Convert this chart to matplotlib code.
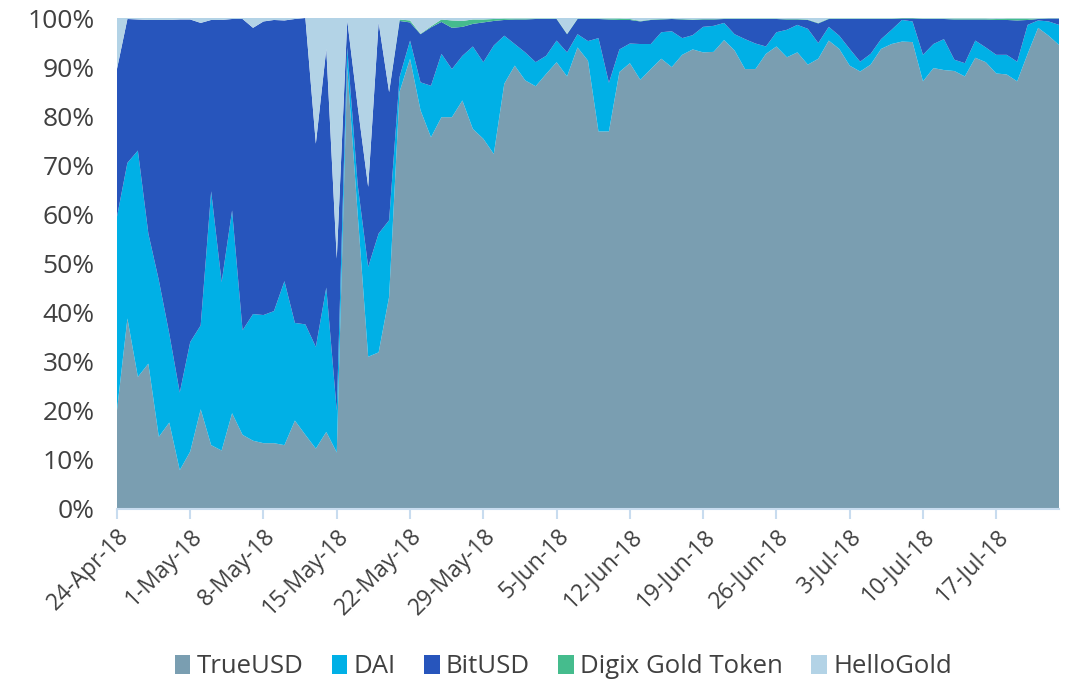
import numpy as np
import pandas as pd
import matplotlib
matplotlib.use("Agg")
import matplotlib.pyplot as plt
import matplotlib.dates as mdates
from matplotlib.patches import Patch
from matplotlib.ticker import FuncFormatter

# daily share of volume, 24-Apr-18 .. 23-Jul-18 (91 days)
dates = pd.date_range("2018-04-24", "2018-07-23", freq="D")

true_usd = [20.0, 38.8, 26.9, 29.6, 14.7, 17.6, 7.9, 11.7, 20.3, 13.0,
            11.9, 19.5, 15.1, 13.9, 13.4, 13.4, 13.0, 18.0, 15.1, 12.3,
            15.7, 11.5, 90.0, 60.0, 31.0, 31.9, 43.2, 85.0, 91.7, 81.2,
            75.7, 79.8, 79.8, 83.2, 77.4, 75.4, 72.3, 86.6, 90.3, 87.3,
            86.1, 88.6, 91.0, 88.1, 94.0, 91.3, 76.9, 76.9, 89.0, 90.8,
            87.4, 89.6, 91.7, 90.0, 92.5, 93.6, 93.0, 93.1, 95.5, 93.4,
            89.6, 89.6, 92.7, 94.2, 92.0, 93.0, 90.5, 91.7, 95.4, 93.7,
            90.3, 89.1, 90.5, 93.7, 94.7, 95.2, 95.1, 87.1, 89.8, 89.4,
            89.2, 88.1, 91.9, 91.0, 88.7, 88.5, 87.1, 92.7, 98.0, 96.4,
            94.5]
dai = [39.5, 31.7, 46.1, 26.5, 31.9, 18.1, 15.8, 22.3, 17.1, 51.7,
       34.3, 41.3, 21.3, 25.8, 26.1, 26.9, 33.4, 19.9, 22.5, 20.7,
       29.4, 8.5, 4.0, 6.0, 18.3, 24.2, 15.6, 3.0, 3.7, 5.7,
       10.5, 12.9, 9.8, 9.1, 16.8, 15.6, 22.1, 9.8, 4.4, 5.7,
       4.9, 3.7, 4.4, 4.9, 2.7, 4.0, 19.0, 9.9, 4.6, 4.0,
       7.3, 5.1, 5.4, 7.3, 3.4, 2.9, 5.2, 5.3, 3.5, 3.3,
       6.1, 5.2, 1.5, 2.9, 5.6, 5.6, 7.3, 3.2, 2.8, 2.7,
       3.4, 2.0, 2.2, 2.0, 2.9, 4.4, 4.2, 5.4, 4.9, 6.3,
       2.3, 2.7, 3.5, 3.0, 3.8, 4.0, 4.0, 5.9, 1.5, 2.9,
       4.1]
bit_usd = [30.1, 29.3, 26.7, 43.5, 53.0, 63.9, 76.0, 65.7, 61.6, 34.9,
           53.4, 39.0, 63.4, 58.3, 59.8, 59.3, 53.1, 61.9, 62.4, 41.4,
           48.6, 31.0, 5.5, 16.0, 16.3, 43.0, 26.1, 11.4, 3.7, 9.8,
           11.9, 6.5, 8.4, 5.9, 4.6, 8.1, 5.0, 3.2, 5.0, 6.7,
           8.8, 7.5, 4.4, 3.7, 3.1, 4.5, 3.9, 12.9, 6.0, 4.8,
           4.6, 4.9, 2.6, 2.5, 3.8, 3.1, 1.5, 1.3, 0.8, 3.1,
           4.1, 5.0, 5.6, 2.7, 2.1, 1.1, 1.8, 4.0, 1.6, 3.4,
           6.1, 8.7, 7.1, 4.1, 2.2, 0.3, 0.6, 7.3, 5.1, 4.1,
           8.2, 8.9, 4.3, 5.7, 7.1, 7.1, 8.4, 1.0, 0.3, 0.6,
           1.3]
digix = [0, 0, 0, 0, 0, 0, 0, 0, 0, 0,
         0, 0, 0, 0, 0, 0, 0, 0, 0, 0,
         0, 0, 0, 0, 0, 0, 0, 0.3, 0.4, 0.1,
         0.2, 0.5, 1.5, 1.2, 0.9, 0.6, 0.4, 0.3, 0.2, 0.2,
         0.1, 0.1, 0.1, 0.1, 0.1, 0.1, 0.1, 0.2, 0.3, 0.2,
         0.1, 0.1, 0.1, 0.1, 0.1, 0.1, 0.1, 0.1, 0.1, 0.1,
         0.1, 0.1, 0.1, 0.1, 0.1, 0.1, 0.1, 0.1, 0.1, 0.1,
         0.1, 0.1, 0.1, 0.1, 0.1, 0.1, 0.1, 0.1, 0.1, 0.1,
         0.2, 0.2, 0.2, 0.2, 0.2, 0.3, 0.4, 0.3, 0.1, 0.05,
         0.05]
hello_gold = [10.4, 0.2, 0.3, 0.4, 0.4, 0.4, 0.3, 0.3, 1.0, 0.4,
              0.4, 0.2, 0.2, 2.0, 0.7, 0.4, 0.5, 0.2, 0.0, 25.6,
              6.3, 49.0, 0.5, 18.0, 34.4, 0.9, 15.1, 0.3, 0.5, 3.2,
              1.7, 0.3, 0.5, 0.6, 0.3, 0.3, 0.2, 0.1, 0.1, 0.1,
              0.1, 0.1, 0.1, 3.2, 0.1, 0.1, 0.1, 0.1, 0.1, 0.2,
              0.6, 0.3, 0.2, 0.1, 0.2, 0.3, 0.2, 0.2, 0.1, 0.1,
              0.1, 0.1, 0.1, 0.1, 0.2, 0.2, 0.3, 1.0, 0.1, 0.1,
              0.1, 0.1, 0.1, 0.1, 0.1, 0.0, 0.0, 0.1, 0.1, 0.1,
              0.1, 0.1, 0.1, 0.1, 0.2, 0.1, 0.1, 0.1, 0.1, 0.05,
              0.05]

labels = ["TrueUSD", "DAI", "BitUSD", "Digix Gold Token", "HelloGold"]
colors = ["#7a9eb1", "#00b0e6", "#2755bc", "#45bc8d", "#b3d3e6"]

plt.rcParams["font.family"] = ["Open Sans", "DejaVu Sans"]

# 100% stacked
vals = np.array([true_usd, dai, bit_usd, digix, hello_gold], dtype=float)
vals = vals / vals.sum(axis=0) * 100

fig = plt.figure(figsize=(10.69, 6.82), dpi=100)
ax = fig.add_axes([0.1094, 0.2537, 0.8813, 0.7199])

ax.stackplot(dates, vals, colors=colors, linewidth=0)

ax.set_xlim(dates[0], dates[-1])
ax.set_ylim(0, 100)
ax.set_yticks(np.arange(0, 101, 10))
ax.yaxis.set_major_formatter(FuncFormatter(lambda v, p: f"{v:.0f}%"))

ax.set_xticks(dates[::7])
ax.xaxis.set_major_formatter(mdates.DateFormatter("%-d-%b-%y"))
plt.setp(ax.get_xticklabels(), rotation=45, ha="right", rotation_mode="anchor")

for s in ["top", "right", "left"]:
    ax.spines[s].set_visible(False)
ax.spines["bottom"].set_color("#c8dcef")
ax.spines["bottom"].set_linewidth(1.5)
ax.tick_params(axis="y", length=0, labelsize=19, colors="#404040", pad=16)
ax.tick_params(axis="x", length=7, width=1.5, color="#c8dcef",
               labelsize=16.5, labelcolor="#404040", pad=4)

handles = [Patch(facecolor=c, edgecolor="none") for c in colors]
fig.legend(handles, labels, loc="lower center", bbox_to_anchor=(0.527, -0.03),
           ncol=5, frameon=False, fontsize=18.5, handlelength=0.6,
           handleheight=0.8, handletextpad=0.25, columnspacing=1.1,
           labelcolor="#404040")

fig.savefig("out.png", dpi=100)
